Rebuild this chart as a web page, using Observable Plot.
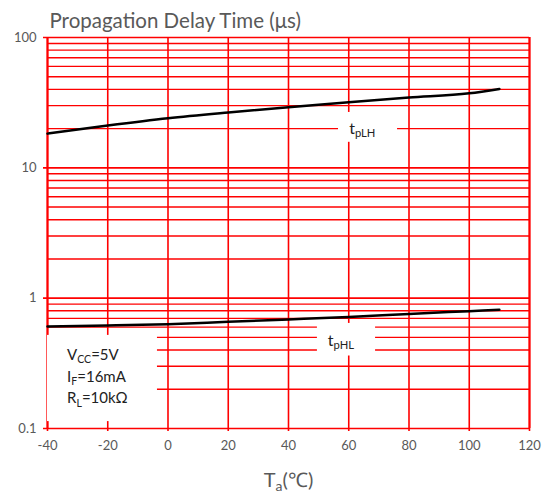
<!DOCTYPE html>
<html>
<head>
<meta charset="utf-8">
<script src="https://cdn.jsdelivr.net/npm/d3@7"></script>
<script src="https://cdn.jsdelivr.net/npm/@observablehq/plot@0.6"></script>
<style>
  html, body { margin: 0; padding: 0; background: #fff; }
</style>
</head>
<body>
<div id="chart"></div>
<script>
// ---- data ----
const temps = [-40, -20, 0, 20, 40, 60, 80, 100, 110];
const tpLH  = [18.3, 21.1, 24.0, 26.6, 29.2, 31.9, 34.6, 37.3, 40.3];
const tpHL  = [0.607, 0.618, 0.632, 0.659, 0.687, 0.717, 0.757, 0.795, 0.815];

const xTicks = [-40, -20, 0, 20, 40, 60, 80, 100, 120];
const xTickLabels = ["-40", "-20", "0", "20", "40", "60", "80", "100", "120"];
const yTicks = [0.1, 1, 10, 100];
const yTickLabels = ["0.1", "1", "10", "100"];
const yMinor = [0.2, 0.3, 0.4, 0.5, 0.6, 0.7, 0.8, 0.9,
                2, 3, 4, 5, 6, 7, 8, 9,
                20, 30, 40, 50, 60, 70, 80, 90];

const titleText = "Propagation Delay Time (μs)";
const xLabelText = "T_{a}(℃)";
const legendLines = ["V_{CC}=5V", "I_{F}=16mA", "R_{L}=10kΩ"];
const legendY = [0.338, 0.2265, 0.1556];
const curveLabels = [
  {text: "t_{pLH}", x: 64.5, y: 20.0},
  {text: "t_{pHL}", x: 57.4, y: 0.473}
];
// white annotation boxes (data units)
const boxes = [
  {x1: -40, x2: -3.5, y1: 0.113, y2: 0.518},
  {x1: 56.6, x2: 76.2, y1: 15.7, y2: 26.6},
  {x1: 49.6, x2: 68.9, y1: 0.36, y2: 0.64}
];

const lhData = temps.map((t, i) => ({t, v: tpLH[i]}));
const hlData = temps.map((t, i) => ({t, v: tpHL[i]}));

const RED = "#ff0000";
const GRAY = "#595959";

const plot = Plot.plot({
  width: 551,
  height: 494,
  marginLeft: 47,
  marginRight: 22,
  marginTop: 37,
  marginBottom: 66,
  style: {fontFamily: "Lato, 'Open Sans', sans-serif", fontSize: "13px", color: GRAY, background: "#fff"},
  x: {domain: [-40, 120], ticks: xTicks, tickSize: 0, tickPadding: 12, label: null,
      tickFormat: (d) => xTickLabels[xTicks.indexOf(d)] ?? ""},
  y: {type: "log", domain: [0.1, 100], ticks: yTicks, tickSize: 0, tickPadding: 11,
      tickFormat: (d) => yTickLabels[yTicks.indexOf(d)] ?? "", label: null},
  marks: [
    // grid
    Plot.ruleY(yMinor, {stroke: RED, strokeWidth: 1.4}),
    Plot.ruleY(yTicks, {stroke: RED, strokeWidth: 1.6, insetLeft: -4}),
    Plot.ruleX(xTicks, {stroke: RED, strokeWidth: 1.6, insetBottom: -3}),
    Plot.ruleX([-40, 120], {stroke: RED, strokeWidth: 2}),
    // white boxes
    Plot.rect(boxes, {x1: "x1", x2: "x2", y1: "y1", y2: "y2", fill: "#fff"}),
    // curves
    Plot.line(lhData, {x: "t", y: "v", stroke: "#000", strokeWidth: 2.5, curve: "monotone-x"}),
    Plot.line(hlData, {x: "t", y: "v", stroke: "#000", strokeWidth: 2.5, curve: "monotone-x"}),
    // curve labels
    Plot.text(curveLabels, {x: "x", y: "y", text: "text", fill: "#222", fontSize: 16, textAnchor: "middle"}),
    // legend
    Plot.text(legendLines, {x: () => -33.5, y: (d, i) => legendY[i], text: d => d, fill: "#222",
      fontSize: 15, textAnchor: "start", lineAnchor: "bottom"}),
    // title
    Plot.text([titleText], {frameAnchor: "top-left", text: d => d, dx: 2, dy: -10, textAnchor: "start",
      lineAnchor: "bottom", fontSize: 20.5, fill: GRAY}),
    // x label
    Plot.text([xLabelText], {frameAnchor: "bottom", text: d => d, dy: 58, lineAnchor: "bottom",
      fontSize: 20, fill: GRAY})
  ]
});

// subscripts: turn "A_{b}c" into tspans
d3.select(plot).selectAll("text").each(function() {
  const s = this.textContent;
  const m = /^(.*?)_\{(.+?)\}(.*)$/.exec(s);
  if (!m) return;
  const el = d3.select(this);
  el.text(null);
  el.append("tspan").text(m[1]);
  el.append("tspan").attr("font-size", "0.7em").attr("dy", "0.3em").text(m[2]);
  if (m[3]) el.append("tspan").attr("dy", "-0.21em").text(m[3]);
});

document.getElementById("chart").appendChild(plot);
</script>
</body>
</html>
